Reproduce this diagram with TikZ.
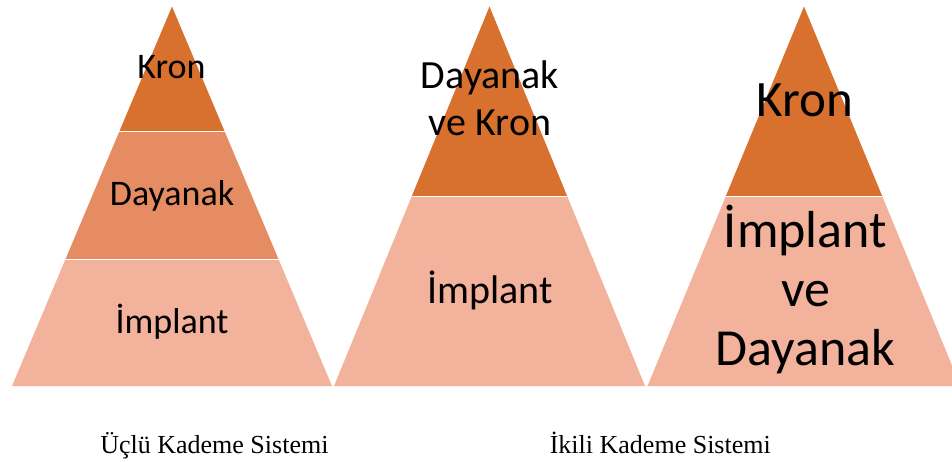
\documentclass[tikz,border=0pt]{standalone}
\usepackage{fontspec}
\setmainfont{Carlito}
\newfontfamily\capfont{Liberation Serif}
\usetikzlibrary{calc}
\definecolor{darkband}{HTML}{D8712E}
\definecolor{midband}{HTML}{E68C62}
\definecolor{lightband}{HTML}{F3B29B}
\tikzset{
  band/.style={fill=#1, draw=none},
  sep/.style={draw=white, line width=1pt},
  lbl/.style={inner sep=0pt, anchor=base, align=center, text=black},
  captxt/.style={inner sep=0pt, anchor=base, font=\capfont\fontsize{26}{30}\selectfont}
}
\begin{document}
\begin{tikzpicture}[x=1pt,y=-1pt]
\useasboundingbox (0,0) rectangle (952,461);
\clip (0,0) rectangle (952,461);
% ---------- Triangle 1 ----------
\coordinate (a1) at (172,6.5);
\coordinate (l1) at (12,386);
\coordinate (r1) at (332,386);
\fill[band=lightband] (l1) -- (r1) -- ($(a1)!0.666!(r1)$) -- ($(a1)!0.666!(l1)$) -- cycle;
\fill[band=midband] ($(a1)!0.666!(l1)$) -- ($(a1)!0.666!(r1)$) -- ($(a1)!0.33!(r1)$) -- ($(a1)!0.33!(l1)$) -- cycle;
\fill[band=darkband] ($(a1)!0.33!(l1)$) -- ($(a1)!0.33!(r1)$) -- (a1) -- cycle;
\draw[sep] ($(a1)!0.33!(l1)$) -- ($(a1)!0.33!(r1)$);
\draw[sep] ($(a1)!0.666!(l1)$) -- ($(a1)!0.666!(r1)$);
% ---------- Triangle 2 ----------
\coordinate (a2) at (489.5,6.5);
\coordinate (l2) at (334,386);
\coordinate (r2) at (645,386);
\fill[band=lightband] (l2) -- (r2) -- ($(a2)!0.5!(r2)$) -- ($(a2)!0.5!(l2)$) -- cycle;
\fill[band=darkband] ($(a2)!0.5!(l2)$) -- ($(a2)!0.5!(r2)$) -- (a2) -- cycle;
\draw[sep] ($(a2)!0.5!(l2)$) -- ($(a2)!0.5!(r2)$);
% ---------- Triangle 3 ----------
\coordinate (a3) at (804,6.5);
\coordinate (l3) at (647.5,386);
\coordinate (r3) at (960.5,386);
\fill[band=lightband] (l3) -- (r3) -- ($(a3)!0.5!(r3)$) -- ($(a3)!0.5!(l3)$) -- cycle;
\fill[band=darkband] ($(a3)!0.5!(l3)$) -- ($(a3)!0.5!(r3)$) -- (a3) -- cycle;
\draw[sep] ($(a3)!0.5!(l3)$) -- ($(a3)!0.5!(r3)$);
% ---------- Labels ----------
\node[lbl, font=\fontsize{36}{43}\selectfont] (k1) at (171.5,78.3) {Kron};
\node[lbl, font=\fontsize{36}{43}\selectfont] (d1) at (172,205) {Dayanak};
\node[lbl, font=\fontsize{36}{43}\selectfont] (i1) at (172,333) {İmplant};
\node[lbl, font=\fontsize{40}{47}\selectfont] (dk2) at (490,135) {Dayanak\\ve Kron};
\node[lbl, font=\fontsize{40}{47}\selectfont] (i2) at (490,303) {İmplant};
\node[lbl, font=\fontsize{51}{59}\selectfont] (k3) at (805,116.7) {Kron};
\node[lbl, font=\fontsize{52}{59}\selectfont] (id3) at (805.5,365) {İmplant\\ve\\Dayanak};
% ---------- Captions ----------
\node[captxt] (c1) at (214.4,453) {Üçlü Kademe Sistemi};
\node[captxt] (c2) at (660.3,453) {İkili Kademe Sistemi};
\end{tikzpicture}
\end{document}
